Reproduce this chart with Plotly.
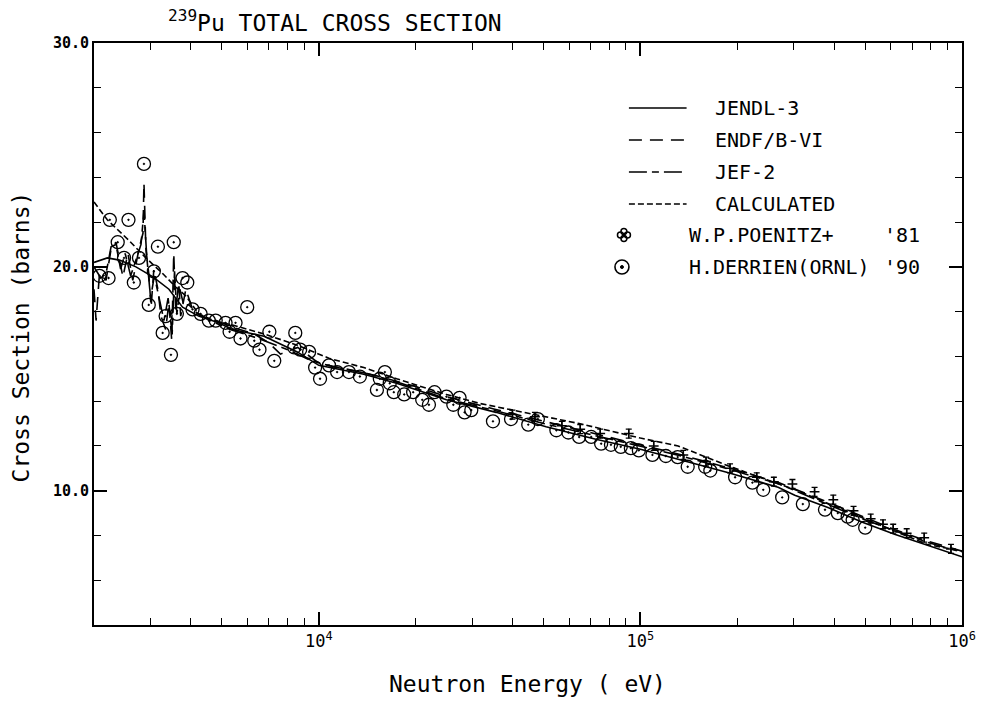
import numpy as np
import plotly.graph_objects as go

# ---------------- data ----------------
jendl_e = [2000, 2200, 2400, 2700, 3050, 3420, 3770, 4230, 4880, 5390, 6760, 8570, 10000, 10830,
           13800, 17460, 24940, 35600, 50900, 72700, 100000, 131000, 188000, 268000, 302000,
           383000, 488000, 617000, 780000, 1000000]
jendl_s = [20.2, 20.4, 20.3, 20.0, 19.55, 19.0, 18.2, 17.8, 17.5, 17.2, 16.9, 16.2, 15.6, 15.5,
           15.2, 14.8, 14.06, 13.5, 12.86, 12.3, 11.85, 11.4, 10.8, 10.15, 9.8,
           9.25, 8.6, 8.05, 7.55, 7.05]

endf_e = [2000, 2030, 2080, 2180, 2260, 2340, 2460, 2550, 2640, 2760, 2840, 2860, 2900, 2960,
          3010, 3070, 3160, 3230, 3340, 3420, 3490, 3540, 3590, 3670, 3720, 3860, 4050, 4300,
          4800, 5400, 6300, 7000, 7600, 8600, 10000, 12000, 15000, 20000, 25000, 35000, 50000,
          70000, 100000, 130000, 190000, 270000, 380000, 490000, 620000, 780000, 1000000]
endf_s = [19.0, 17.6, 19.7, 19.4, 20.8, 21.1, 19.55, 20.6, 19.4, 20.8, 21.5, 23.75, 20.8, 19.7,
          18.2, 19.9, 19.0, 17.8, 17.2, 18.4, 16.7, 20.6, 18.1, 19.3, 17.8, 19.0, 18.1, 17.8,
          17.6, 17.3, 17.0, 16.6, 16.1, 16.4, 15.7, 15.45, 15.15, 14.65, 14.2, 13.65, 13.1,
          12.6, 12.05, 11.65, 11.0, 10.35, 9.5, 8.85, 8.25, 7.75, 7.3]

jef2_e = [2000, 2100, 2180, 2260, 2340, 2420, 2500, 2600, 2700, 2800, 2860, 2920, 3000, 3080,
          3200, 3300, 3400, 3500, 3560, 3620, 3700, 3800, 3950, 4200, 4600, 5300, 6500, 8000,
          9500, 11000, 14000, 18000, 25000, 36000, 50000, 70000, 100000, 130000, 190000,
          270000, 380000, 490000, 620000, 780000, 1000000]
jef2_s = [20.0, 19.5, 19.7, 20.9, 21.0, 19.9, 20.6, 19.6, 20.3, 21.0, 22.5, 20.4, 18.6, 19.6,
          18.5, 17.6, 18.6, 17.0, 19.8, 17.9, 19.0, 18.3, 18.3, 17.9, 17.6, 17.2, 16.8, 16.3,
          15.8, 15.55, 15.25, 14.8, 14.1, 13.55, 13.0, 12.5, 12.0, 11.6, 10.95,
          10.3, 9.4, 8.75, 8.2, 7.7, 7.25]

calc_e = [2000, 2200, 2560, 2900, 3270, 3590, 3860, 4230, 4700, 5390, 6760, 8570, 10830, 13800,
          17460, 24940, 31600, 43200, 64500, 100000, 131000, 188000, 302000, 488000, 780000, 1000000]
calc_s = [22.9, 22.1, 21.2, 20.4, 19.7, 19.1, 18.7, 17.9, 17.6, 17.4, 17.0, 16.5, 15.9, 15.5,
          15.0, 14.3, 13.9, 13.5, 13.0, 12.35, 12.0, 11.1, 10.05, 8.8, 7.6, 7.3]

poen_e = [40000, 47000, 57000, 65000, 75000, 92000, 110000, 136000, 160000, 190000, 230000,
          260000, 297000, 348000, 398000, 460000, 520000, 568000, 611000, 673000, 763000, 924000]
poen_s = [13.4, 13.3, 12.9, 12.75, 12.55, 12.55, 12.0, 11.6, 11.3, 11.0, 10.6,
          10.4, 10.3, 9.95, 9.6, 9.1, 8.75, 8.5, 8.3, 8.1, 7.9, 7.4]
poen_err = [0.2] * len(poen_e)

derr_e = [2000, 2080, 2220, 2240, 2370, 2480, 2560, 2660, 2760, 2860, 2960, 3070, 3160, 3270,
          3340, 3470, 3540, 3620, 3770, 3900, 4050, 4290, 4550, 4780, 5130, 5280, 5510, 5710,
          5990, 6300, 6540, 7020, 7270, 8390, 8450, 8750, 9330, 9740, 10090, 10760, 11400,
          12410, 13420, 15160, 15480, 16050, 16620, 17110, 18430, 19650, 20970, 22000, 22900,
          24940, 26200, 27400, 28400, 29800, 34800, 39600, 44800, 48000, 54800, 59700, 64500,
          70300, 75500, 81000, 86900, 93400, 98900, 109000, 120000, 130600, 140300, 159000,
          165000, 197000, 223000, 241000, 276000, 320000, 375000, 411000, 441000, 457000, 500000]
derr_s = [17.3, 19.6, 19.5, 22.1, 21.1, 20.4, 22.1, 19.3, 20.4, 24.6, 18.3, 19.8, 20.9, 17.05,
          17.8, 16.07, 21.1, 17.9, 19.5, 19.3, 18.1, 17.9, 17.6, 17.6, 17.5, 17.1, 17.5, 16.8,
          18.2, 16.7, 16.3, 17.1, 15.8, 16.4, 17.05, 16.3, 16.2, 15.5, 15.0, 15.6, 15.3,
          15.3, 15.1, 14.5, 15.0, 15.3, 14.8, 14.4, 14.3, 14.4, 14.06, 13.84, 14.4,
          14.2, 13.84, 14.15, 13.5, 13.6, 13.1, 13.2, 12.95, 13.2, 12.7, 12.6, 12.4,
          12.4, 12.1, 12.05, 11.96, 11.9, 11.8, 11.6, 11.55, 11.5, 11.07, 11.07,
          10.9, 10.6, 10.36, 10.04, 9.7, 9.4, 9.15, 9.0, 8.84, 8.7, 8.35]

x_tickvals = [1e4, 1e5, 1e6]
x_ticktext = ["10<sup>4</sup>", "10<sup>5</sup>", "10<sup>6</sup>"]
y_tickvals = [10, 20, 30]
y_ticktext = ["<b>10.0</b>", "<b>20.0</b>", "<b>30.0</b>"]

legend_lines = ["JENDL-3", "ENDF/B-VI", "JEF-2", "CALCULATED"]
legend_dash = ["solid", "13px,8px", "18px,5px,7px,5px", "6px,3px"]
legend_marks = [("W.P.POENITZ+", "'81"), ("H.DERRIEN(ORNL)", "'90")]

# ---------------- figure ----------------
W, H = 988, 701
L, R, T, B = 94, 21, 43, 76
PW, PH = W - L - R, H - T - B
MONO = "DejaVu Sans Mono"


def px(xp):
    return (xp - L) / PW


def py(yp):
    return (H - B - yp) / PH


fig = go.Figure()

curves = [(jendl_e, jendl_s, legend_dash[0], legend_lines[0]),
          (endf_e, endf_s, legend_dash[1], legend_lines[1]),
          (jef2_e, jef2_s, legend_dash[2], legend_lines[2]),
          (calc_e, calc_s, legend_dash[3], legend_lines[3])]
for e, s, d, n in curves:
    fig.add_trace(go.Scatter(x=e, y=s, mode="lines", name=n, showlegend=False,
                             line=dict(color="black", width=1.6, dash=d)))

fig.add_trace(go.Scatter(x=derr_e, y=derr_s, mode="markers", name="H.DERRIEN(ORNL) '90",
                         showlegend=False, cliponaxis=False,
                         marker=dict(symbol="circle-open-dot", size=13, color="black",
                                     line=dict(color="black", width=1.3))))
fig.add_trace(go.Scatter(x=poen_e, y=poen_s, mode="markers", name="W.P.POENITZ+ '81",
                         showlegend=False,
                         error_y=dict(type="data", array=poen_err, visible=True,
                                      color="black", thickness=1.3, width=3),
                         marker=dict(symbol="cross-thin-open", size=7, color="black",
                                     line=dict(color="black", width=1.5))))

shapes = []
annotations = []
rows = [108, 140, 172, 204, 235, 267]
for i, (lab, d) in enumerate(zip(legend_lines, legend_dash)):
    shapes.append(dict(type="line", xref="paper", yref="paper", x0=px(632), x1=px(690),
                       y0=py(rows[i]), y1=py(rows[i]),
                       line=dict(color="black", width=1.6, dash=d)))
    annotations.append(dict(text=lab, xref="paper", yref="paper", x=px(717), y=py(rows[i]),
                            xanchor="left", yanchor="middle", showarrow=False,
                            font=dict(family=MONO, size=20, color="black")))
for i, (lab, yr) in enumerate(legend_marks):
    r = rows[4 + i]
    annotations.append(dict(text=lab, xref="paper", yref="paper", x=px(690), y=py(r),
                            xanchor="left", yanchor="middle", showarrow=False,
                            font=dict(family=MONO, size=20, color="black")))
    annotations.append(dict(text=yr, xref="paper", yref="paper", x=px(927), y=py(r),
                            xanchor="right", yanchor="middle", showarrow=False,
                            font=dict(family=MONO, size=20, color="black")))

# legend symbols
cx, cy = px(627), py(rows[4])
for dx, dy in [(0, -3.5), (0, 3.5), (-3.5, 0), (3.5, 0)]:
    shapes.append(dict(type="circle", xref="paper", yref="paper", xsizemode="pixel",
                       ysizemode="pixel", xanchor=cx, yanchor=cy,
                       x0=dx - 3, x1=dx + 3, y0=dy - 3, y1=dy + 3,
                       line=dict(color="black", width=1.5)))
cx, cy = px(625), py(rows[5])
shapes.append(dict(type="circle", xref="paper", yref="paper", xsizemode="pixel",
                   ysizemode="pixel", xanchor=cx, yanchor=cy, x0=-7, x1=7, y0=-7, y1=7,
                   line=dict(color="black", width=1.6)))
shapes.append(dict(type="circle", xref="paper", yref="paper", xsizemode="pixel",
                   ysizemode="pixel", xanchor=cx, yanchor=cy, x0=-1.5, x1=1.5, y0=-1.5, y1=1.5,
                   fillcolor="black", line=dict(color="black", width=1)))

# title and axis titles
annotations.append(dict(text="<sup>239</sup>Pu TOTAL CROSS SECTION", xref="paper", yref="paper",
                        x=px(166), y=py(21), xanchor="left", yanchor="middle", showarrow=False,
                        font=dict(family=MONO, size=23, color="black")))
annotations.append(dict(text="Cross Section (barns)", xref="paper", yref="paper",
                        x=px(21), y=py(337), xanchor="center", yanchor="middle",
                        textangle=-90, showarrow=False,
                        font=dict(family=MONO, size=23, color="black")))
annotations.append(dict(text="Neutron Energy ( eV)", xref="paper", yref="paper",
                        x=px(530), y=py(684), xanchor="center", yanchor="middle",
                        showarrow=False, font=dict(family=MONO, size=23, color="black")))

fig.update_layout(
    width=W, height=H, autosize=False,
    margin=dict(l=L, r=R, t=T, b=B, pad=0),
    paper_bgcolor="white", plot_bgcolor="white",
    shapes=shapes, annotations=annotations, showlegend=False,
    xaxis=dict(type="log", range=[np.log10(2000), 6], showgrid=False, zeroline=False,
               showline=True, linecolor="black", linewidth=2, mirror="ticks",
               ticks="inside", ticklen=13, tickwidth=1.5, tickcolor="black",
               tickmode="array", tickvals=x_tickvals, ticktext=x_ticktext,
               tickfont=dict(family=MONO, size=17, color="black"),
               minor=dict(ticks="inside", ticklen=7, tickwidth=1.3, tickcolor="black",
                          dtick="D1", showgrid=False)),
    yaxis=dict(range=[4, 30], showgrid=False, zeroline=False,
               showline=True, linecolor="black", linewidth=2, mirror="ticks",
               ticks="inside", ticklen=13, tickwidth=1.5, tickcolor="black",
               tickmode="array", tickvals=y_tickvals, ticktext=y_ticktext,
               tickfont=dict(family=MONO, size=15, color="black"),
               minor=dict(ticks="inside", ticklen=7, tickwidth=1.3, tickcolor="black",
                          tick0=0, dtick=2, showgrid=False)),
)

fig.write_html("out.html")
